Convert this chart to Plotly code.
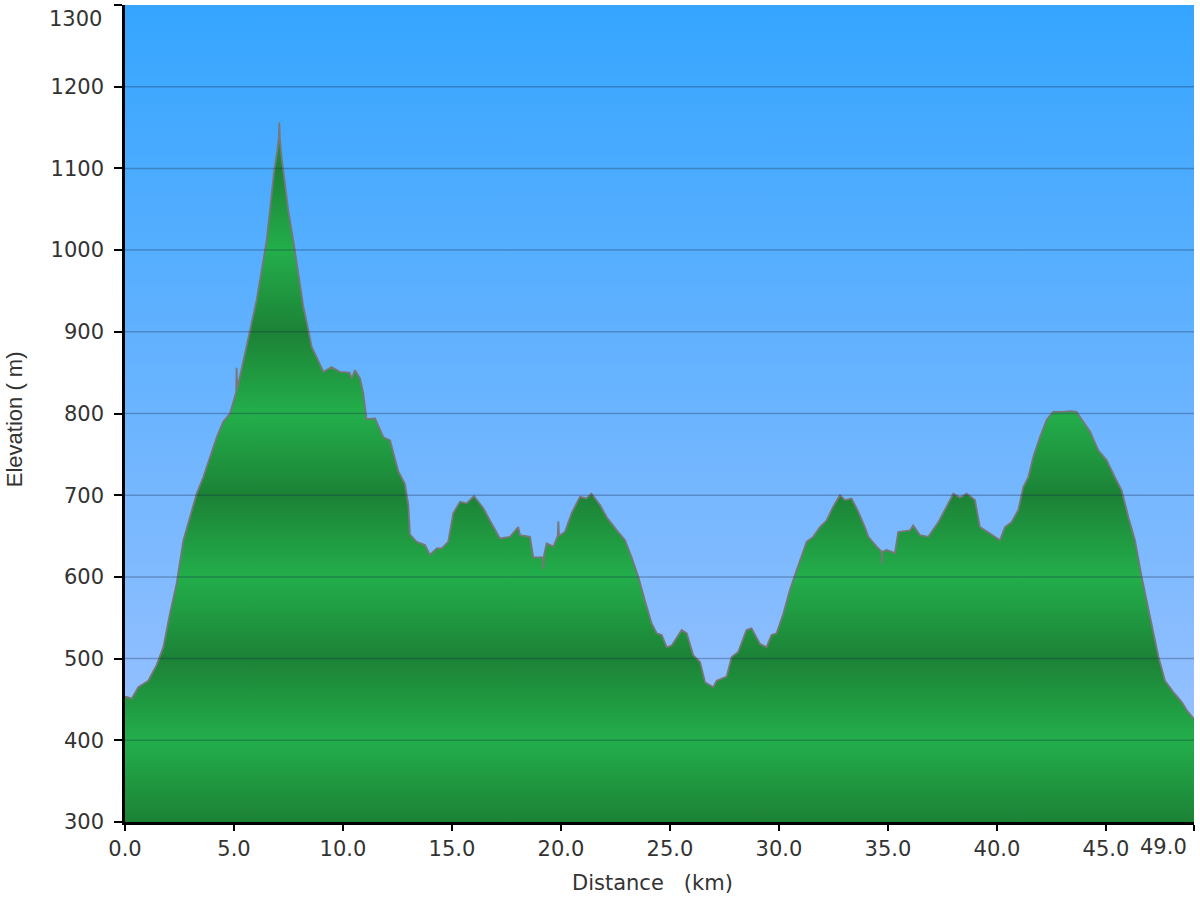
import plotly.graph_objects as go

dist_km = [0.00, 0.08, 0.31, 0.61, 1.07, 1.45, 1.76, 2.06, 2.37, 2.68, 2.98, 3.29, 3.59, 3.82, 4.21, 4.51, 4.82,
           5.10, 5.12, 5.15, 5.43, 5.73, 6.04, 6.35, 6.50, 6.65, 6.83, 6.99, 7.06, 7.08, 7.10, 7.18, 7.34, 7.49,
           7.72, 7.95, 8.18, 8.41, 8.56, 8.79, 9.10, 9.48, 9.86, 10.30, 10.40, 10.55, 10.78, 10.93, 11.08, 11.47,
           11.85, 12.16, 12.54, 12.84, 13.00, 13.07, 13.38, 13.76, 13.99, 14.30, 14.53, 14.83, 15.06, 15.37, 15.67,
           16.01, 16.44, 16.74, 17.20, 17.66, 18.04, 18.12, 18.58, 18.73, 19.17, 19.19, 19.22, 19.34, 19.65, 19.85,
           19.88, 19.91, 20.18, 20.49, 20.87, 21.17, 21.40, 21.79, 22.10, 22.56, 22.94, 23.24, 23.55, 23.85, 24.16,
           24.39, 24.62, 24.85, 25.08, 25.54, 25.77, 26.07, 26.38, 26.61, 26.99, 27.14, 27.60, 27.83, 28.13, 28.51,
           28.74, 29.13, 29.43, 29.66, 29.89, 30.20, 30.50, 30.81, 31.27, 31.57, 31.88, 32.18, 32.49, 32.80, 33.03,
           33.33, 33.64, 33.94, 34.10, 34.48, 34.71, 34.73, 34.75, 34.94, 35.32, 35.47, 36.01, 36.16, 36.47, 36.85,
           37.31, 37.69, 38.00, 38.30, 38.61, 38.99, 39.22, 39.68, 40.14, 40.37, 40.67, 40.98, 41.21, 41.44, 41.67,
           41.97, 42.28, 42.58, 43.04, 43.35, 43.65, 43.96, 44.27, 44.65, 45.03, 45.41, 45.72, 46.03, 46.33, 46.64,
           47.02, 47.41, 47.71, 48.09, 48.47, 48.70, 49.04]

elev_m = [453, 453, 451, 465, 473, 492, 514, 555, 592, 645, 673, 702, 722, 741, 771, 790, 800,
          826, 856, 830, 865, 900, 939, 988, 1012, 1049, 1094, 1122, 1139, 1156, 1139, 1114, 1082, 1049,
          1012, 971, 931, 902, 882, 869, 851, 857, 851, 850, 843, 853, 843, 825, 793, 794,
          771, 767, 729, 714, 688, 652, 643, 639, 627, 635, 635, 643, 678, 692, 690,
          699, 684, 669, 647, 649, 661, 651, 649, 624, 624, 610, 626, 641, 637, 650,
          668, 650, 655, 678, 698, 696, 702, 688, 673, 657, 645, 624, 600, 571, 543,
          531, 529, 514, 516, 535, 531, 504, 496, 471, 465, 473, 478, 502, 508, 535,
          537, 518, 514, 529, 531, 555, 584, 608, 643, 649, 661, 669, 686, 700, 694,
          696, 680, 661, 649, 637, 631, 616, 631, 633, 629, 655, 657, 663, 651, 649,
          667, 686, 702, 697, 702, 694, 661, 653, 645, 661, 667, 682, 710, 722, 747,
          771, 792, 802, 802, 803, 802, 790, 778, 755, 743, 722, 706, 673, 645, 600,
          551, 502, 473, 459, 447, 437, 426]

x_ticks = [0, 5, 10, 15, 20, 25, 30, 35, 40, 45]
x_tick_text = ["0.0", "5.0", "10.0", "15.0", "20.0", "25.0", "30.0", "35.0", "40.0", "45.0"]
total_km = 49.04
total_label = "49.0"
y_ticks = [300, 400, 500, 600, 700, 800, 900, 1000, 1100, 1200, 1300]
y_tick_text = ["300", "400", "500", "600", "700", "800", "900", "1000", "1100", "1200", ""]
top_label = "1300"
x_title = "Distance\u00a0\u00a0\u00a0(km)"
y_title = "Elevation ( m)"

y_min, y_max = 300, 1300
font_family = "DejaVu Sans, Verdana, sans-serif"
text_color = "#333333"
tick_size = 21

dark_g = "#1c8236"
light_g = "#23ae4b"
green_scale = []
n_bands = (y_max - y_min) // 100
for i in range(n_bands + 1):
    pos = i / n_bands
    green_scale.append([pos, dark_g if i % 2 == 0 else light_g])

fig = go.Figure()

# sky background
fig.add_trace(go.Scatter(
    x=[0, total_km], y=[y_max, y_max], mode="lines", line=dict(width=0),
    fill="tozeroy",
    fillgradient=dict(type="vertical", start=y_min, stop=y_max,
                      colorscale=[[0, "#a2c4ff"], [0.5, "#6bb4ff"], [1, "#35a5ff"]]),
    hoverinfo="skip", showlegend=False))

# elevation profile
fig.add_trace(go.Scatter(
    x=dist_km, y=elev_m, mode="lines",
    line=dict(color="#777777", width=1.8),
    fill="tozeroy",
    fillgradient=dict(type="vertical", start=y_min, stop=y_max, colorscale=green_scale),
    showlegend=False))

shapes = []
for v in y_ticks[1:-1]:
    shapes.append(dict(type="line", xref="paper", x0=0, x1=1, yref="y", y0=v, y1=v,
                       line=dict(color="rgba(20,40,70,0.30)", width=1.5), layer="above"))

annotations = [
    dict(x=total_km, y=0, xref="x", yref="paper", text=total_label,
         xanchor="right", yanchor="top", yshift=-11, xshift=-5, showarrow=False,
         font=dict(family=font_family, size=tick_size, color=text_color)),
    dict(x=0, y=y_max, xref="paper", yref="y", text=top_label,
         xanchor="right", yanchor="top", yshift=0, xshift=-21, showarrow=False,
         font=dict(family=font_family, size=tick_size, color=text_color)),
    dict(x=0.493, y=0, xref="paper", yref="paper", text=x_title,
         xanchor="center", yanchor="middle", yshift=-61, showarrow=False,
         font=dict(family=font_family, size=21, color=text_color)),
    dict(x=0, y=0.493, xref="paper", yref="paper", text=y_title, textangle=-90,
         xanchor="center", yanchor="middle", xshift=-111, showarrow=False,
         font=dict(family="Liberation Sans, Arial, sans-serif", size=22, color=text_color)),
]

fig.update_layout(
    width=1200, height=900,
    margin=dict(l=125, r=6, t=5, b=78, autoexpand=False),
    paper_bgcolor="white", plot_bgcolor="white",
    font=dict(family=font_family, size=tick_size, color=text_color),
    shapes=shapes,
    annotations=annotations,
    xaxis=dict(range=[0, total_km], tickvals=x_ticks + [total_km], ticktext=x_tick_text + [""],
               showgrid=False, zeroline=False, showline=True, linecolor="black", linewidth=2.5,
               ticks="outside", ticklen=6, tickwidth=2, tickcolor="black",
               tickfont=dict(size=tick_size), ticklabeloverflow="allow", automargin=False,
               layer="above traces"),
    yaxis=dict(range=[y_min, y_max], tickvals=y_ticks, ticktext=y_tick_text,
               showgrid=False, zeroline=False,
               showline=True, linecolor="black", linewidth=2.5,
               ticks="outside", ticklen=8, tickwidth=2, tickcolor="black",
               tickfont=dict(size=tick_size), ticklabeloverflow="allow", automargin=False,
               ticklabelstandoff=6,
               layer="above traces"),
)

fig.write_html("out.html", config={"displayModeBar": False},
               post_script="document.body.style.margin='0';")
